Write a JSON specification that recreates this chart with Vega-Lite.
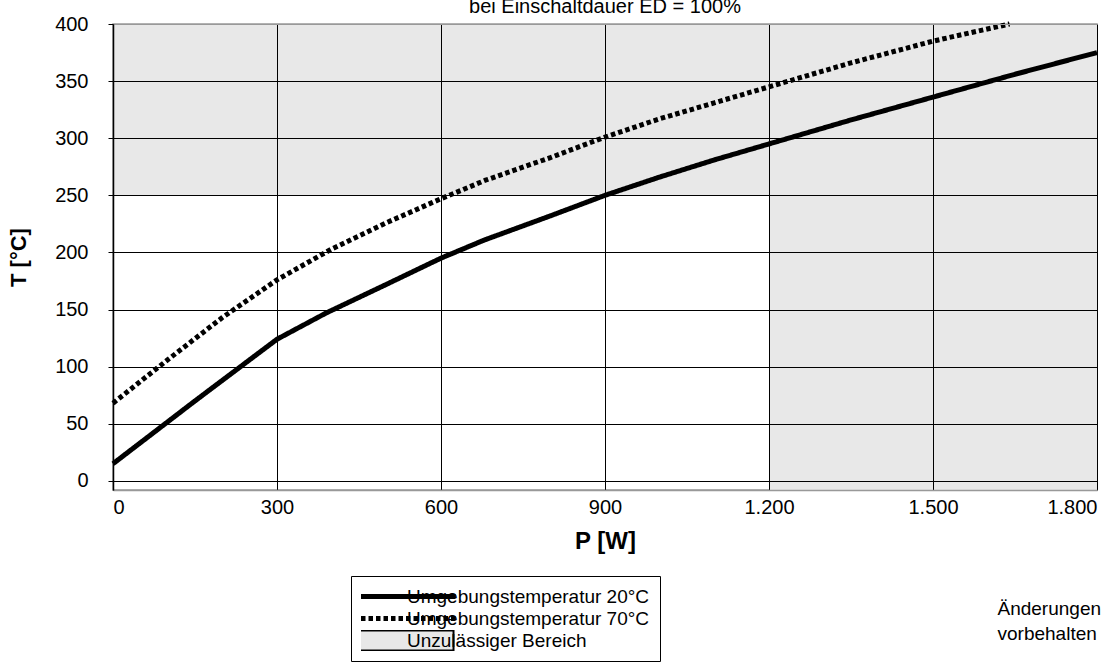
{
  "$schema": "https://vega.github.io/schema/vega-lite/v6.json",
  "width": 984,
  "height": 466,
  "autosize": {"type": "none"},
  "padding": {"left": 113, "top": 24, "right": 16, "bottom": 182},
  "background": "white",
  "title": {"text": "bei Einschaltdauer ED = 100%", "fontSize": 20, "fontWeight": "normal", "font": "Liberation Sans", "anchor": "middle", "baseline": "alphabetic", "offset": 0, "dy": 19, "color": "black"},
  "config": {"view": {"stroke": "#999", "strokeWidth": 1.5}, "font": "Liberation Sans"},
  "datasets": {
    "curves": [
      {"P": 0, "T": 15, "series": "Umgebungstemperatur 20°C"},
      {"P": 150, "T": 70, "series": "Umgebungstemperatur 20°C"},
      {"P": 300, "T": 124, "series": "Umgebungstemperatur 20°C"},
      {"P": 390, "T": 147, "series": "Umgebungstemperatur 20°C"},
      {"P": 500, "T": 172, "series": "Umgebungstemperatur 20°C"},
      {"P": 600, "T": 195, "series": "Umgebungstemperatur 20°C"},
      {"P": 680, "T": 211, "series": "Umgebungstemperatur 20°C"},
      {"P": 800, "T": 232, "series": "Umgebungstemperatur 20°C"},
      {"P": 900, "T": 250, "series": "Umgebungstemperatur 20°C"},
      {"P": 1000, "T": 266, "series": "Umgebungstemperatur 20°C"},
      {"P": 1100, "T": 281, "series": "Umgebungstemperatur 20°C"},
      {"P": 1200, "T": 295, "series": "Umgebungstemperatur 20°C"},
      {"P": 1350, "T": 316, "series": "Umgebungstemperatur 20°C"},
      {"P": 1500, "T": 336, "series": "Umgebungstemperatur 20°C"},
      {"P": 1650, "T": 356, "series": "Umgebungstemperatur 20°C"},
      {"P": 1800, "T": 375, "series": "Umgebungstemperatur 20°C"},
      {"P": 0, "T": 68, "series": "Umgebungstemperatur 70°C"},
      {"P": 100, "T": 106, "series": "Umgebungstemperatur 70°C"},
      {"P": 200, "T": 143, "series": "Umgebungstemperatur 70°C"},
      {"P": 300, "T": 176, "series": "Umgebungstemperatur 70°C"},
      {"P": 400, "T": 203, "series": "Umgebungstemperatur 70°C"},
      {"P": 500, "T": 226, "series": "Umgebungstemperatur 70°C"},
      {"P": 600, "T": 247, "series": "Umgebungstemperatur 70°C"},
      {"P": 680, "T": 263, "series": "Umgebungstemperatur 70°C"},
      {"P": 800, "T": 283, "series": "Umgebungstemperatur 70°C"},
      {"P": 900, "T": 301, "series": "Umgebungstemperatur 70°C"},
      {"P": 1000, "T": 317, "series": "Umgebungstemperatur 70°C"},
      {"P": 1100, "T": 331, "series": "Umgebungstemperatur 70°C"},
      {"P": 1200, "T": 345, "series": "Umgebungstemperatur 70°C"},
      {"P": 1350, "T": 366, "series": "Umgebungstemperatur 70°C"},
      {"P": 1500, "T": 385, "series": "Umgebungstemperatur 70°C"},
      {"P": 1640, "T": 400, "series": "Umgebungstemperatur 70°C"}
    ],
    "shade": [
      {"x1": 0, "x2": 1800, "y1": 250, "y2": 400},
      {"x1": 1200, "x2": 1800, "y1": -8, "y2": 250}
    ]
  },
  "layer": [
    {
      "data": {"name": "shade"},
      "mark": {"type": "rect", "fill": "#e8e8e8", "strokeWidth": 0},
      "encoding": {
        "x": {"field": "x1", "type": "quantitative", "scale": {"domain": [0, 1800], "nice": false}},
        "x2": {"field": "x2"},
        "y": {"field": "y1", "type": "quantitative", "scale": {"domain": [-8, 400], "nice": false, "zero": false},
          "axis": {"orient": "right", "title": ["Änderungen", "vorbehalten"], "labels": false, "ticks": false, "domain": false, "grid": false,
            "titleX": -100, "titleY": 590, "titleAlign": "left", "titleAnchor": null, "titleBaseline": "alphabetic", "titleAngle": 0,
            "titleFontWeight": "normal", "titleFontSize": 19, "titleLineHeight": 25, "titleColor": "black", "titleFont": "Liberation Sans", "zindex": 1}},
        "y2": {"field": "y2"}
      }
    },
    {
      "data": {"name": "curves"},
      "mark": {"type": "line", "color": "black", "strokeWidth": 5, "strokeCap": "butt", "strokeJoin": "round"},
      "encoding": {
        "x": {"field": "P", "type": "quantitative", "scale": {"domain": [0, 1800], "nice": false},
          "axis": {"orient": "bottom", "title": "P [W]", "values": [0, 300, 600, 900, 1200, 1500, 1800],
            "labelExpr": "replace(format(datum.value, ','), ',', '.')",
            "grid": true, "gridColor": "black", "gridOpacity": 1, "gridWidth": 1,
            "ticks": false, "domain": true, "domainColor": "#999", "domainWidth": 1.5,
            "labelFontSize": 20, "labelColor": "black", "labelPadding": 7, "labelFont": "Liberation Sans",
            "titleFontSize": 24, "titleFontWeight": "bold", "titleColor": "black", "titlePadding": 12, "titleFont": "Liberation Sans", "zindex": 1}},
        "y": {"field": "T", "type": "quantitative", "scale": {"domain": [-8, 400], "nice": false, "zero": false},
          "axis": {"orient": "left", "title": "T [°C]", "values": [0, 50, 100, 150, 200, 250, 300, 350, 400],
            "grid": true, "gridColor": {"condition": {"test": "datum.value == 400", "value": "#999"}, "value": "black"}, "gridOpacity": 1, "gridWidth": 1,
            "ticks": true, "tickSize": 5, "tickColor": "black", "domain": true, "domainColor": "black", "domainWidth": 1.5,
            "labelFontSize": 20, "labelColor": "black", "labelPadding": 20, "labelFont": "Liberation Sans",
            "titleFontSize": 22, "titleFontWeight": "bold", "titleColor": "black", "titlePadding": 24, "titleFont": "Liberation Sans", "zindex": 1}},
        "strokeDash": {"field": "series", "type": "nominal",
          "scale": {"domain": ["Umgebungstemperatur 20°C", "Umgebungstemperatur 70°C", "Unzulässiger Bereich"], "range": [[1, 0], [4.5, 3], [1, 0]]},
          "legend": {"title": null, "orient": "none", "legendX": 238, "legendY": 552, "direction": "vertical",
            "strokeColor": "black", "padding": 10, "symbolType": "stroke", "symbolSize": 17424, "clipHeight": 21, "symbolStrokeWidth": 5, "symbolStrokeColor": "black",
            "symbolOffset": 19, "labelOffset": 8, "rowPadding": 1, "labelFontSize": 19, "labelColor": "black", "labelFont": "Liberation Sans", "labelLimit": 500,
            "encode": {"symbols": {"update": {
              "shape": {"signal": "datum.value == 'Unzulässiger Bereich' ? 'M-0.97,-0.15H0.97V0.15H-0.97Z' : 'stroke'"},
              "fill": {"signal": "datum.value == 'Unzulässiger Bereich' ? '#e8e8e8' : 'transparent'"},
              "stroke": {"value": "black"},
              "strokeWidth": {"signal": "datum.value == 'Unzulässiger Bereich' ? 2 : 5"},
              "strokeDash": {"signal": "datum.value == 'Umgebungstemperatur 70°C' ? [7, 3.2] : [1, 0]"},
              "strokeCap": {"value": "butt"}
            }}}}
        }
      }
    }
  ],
  "resolve": {"axis": {"y": "independent"}}
}
